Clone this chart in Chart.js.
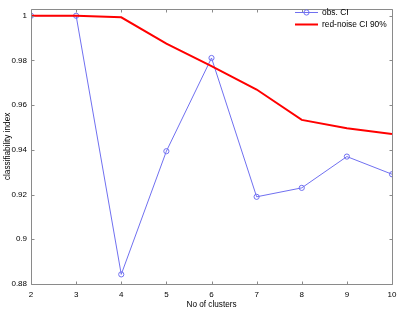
<!DOCTYPE html>
<html><head>
<meta charset="utf-8">
<script src="https://cdn.jsdelivr.net/npm/chart.js@4/dist/chart.umd.min.js"></script>
<style>html,body{margin:0;padding:0;background:#fff;overflow:hidden}</style>
</head><body>
<canvas id="c" width="397" height="309" style="width:397px;height:309px;display:block"></canvas>
<script>
const clusters = [2, 3, 4, 5, 6, 7, 8, 9, 10];
const obsCI = [1.0, 1.0, 0.8843, 0.9394, 0.9811, 0.9190, 0.9230, 0.9370, 0.9291];
const redNoiseCI90 = [1.0, 1.0, 0.9993, 0.9875, 0.9775, 0.9670, 0.9534, 0.9497, 0.9471];
const yTicks = [0.88, 0.9, 0.92, 0.94, 0.96, 0.98, 1];
const xTicks = [2, 3, 4, 5, 6, 7, 8, 9, 10];
const seriesNames = ['obs. CI', 'red-noise CI 90%'];
const xTitle = 'No of clusters';
const yTitle = 'classifiability index';

const FONT = '"Liberation Sans", Arial, Helvetica, sans-serif';
const BLUE = 'rgb(112,112,240)';
const RED = 'rgb(255,0,0)';
const AXIS = '#8a8a8a';

const boxPlugin = {
  id: 'boxTicks',
  afterDraw(chart) {
    const ctx = chart.ctx, a = chart.chartArea;
    const xs = chart.scales.x, ys = chart.scales.y;
    ctx.save();
    ctx.strokeStyle = AXIS; ctx.lineWidth = 1;
    const L = Math.round(a.left) + 0.5, R = Math.round(a.right) + 0.5;
    const T = Math.round(a.top) + 0.5, B = Math.round(a.bottom) + 0.5;
    ctx.beginPath();
    ctx.rect(L, T, R - L, B - T);
    const tl = 3;
    xTicks.forEach(v => {
      const p = Math.round(xs.getPixelForValue(v)) + 0.5;
      ctx.moveTo(p, B); ctx.lineTo(p, B - tl);
      ctx.moveTo(p, T); ctx.lineTo(p, T + tl);
    });
    yTicks.forEach(v => {
      const p = Math.round(ys.getPixelForValue(v)) + 0.5;
      ctx.moveTo(L, p); ctx.lineTo(L + tl, p);
      ctx.moveTo(R, p); ctx.lineTo(R - tl, p);
    });
    ctx.stroke();

    // legend
    const lx0 = 295, lx1 = 318, tx = 322;
    const rows = [12, 24];
    chart.data.datasets.forEach((ds, i) => {
      const y = rows[i] + 0.5;
      ctx.strokeStyle = ds.borderColor;
      ctx.lineWidth = ds.borderWidth;
      ctx.beginPath(); ctx.moveTo(lx0, y); ctx.lineTo(lx1, y); ctx.stroke();
      if (ds.pointRadius > 0) {
        ctx.lineWidth = 1;
        ctx.beginPath(); ctx.arc((lx0 + lx1) / 2, y, ds.pointRadius, 0, Math.PI * 2); ctx.stroke();
      }
      ctx.fillStyle = '#000';
      ctx.font = '8.4px ' + FONT;
      ctx.textBaseline = 'middle';
      ctx.textAlign = 'left';
      ctx.fillText(ds.label, tx, y);
    });
    ctx.restore();
  }
};

new Chart(document.getElementById('c'), {
  type: 'line',
  data: {
    datasets: [
      {
        label: seriesNames[0],
        data: clusters.map((x, i) => ({ x, y: obsCI[i] })),
        borderColor: BLUE, borderWidth: 1,
        pointRadius: 2.6, pointBorderColor: BLUE, pointBackgroundColor: 'rgba(0,0,0,0)',
        pointBorderWidth: 1, tension: 0, order: 2
      },
      {
        label: seriesNames[1],
        data: clusters.map((x, i) => ({ x, y: redNoiseCI90[i] })),
        borderColor: RED, borderWidth: 2,
        pointRadius: 0, tension: 0, order: 1
      }
    ]
  },
  options: {
    responsive: false, animation: false, devicePixelRatio: 1,
    layout: { padding: { top: 1, right: 5, left: 0, bottom: 0 } },
    plugins: { legend: { display: false }, tooltip: { enabled: false } },
    scales: {
      x: {
        type: 'linear', min: 2, max: 10,
        afterBuildTicks: s => { s.ticks = xTicks.map(v => ({ value: v })); },
        afterFit: s => { s.height = 25; s.paddingLeft = 0; s.paddingRight = 0; },
        grid: { display: false, drawTicks: false, tickLength: 0 }, border: { display: false },
        ticks: { color: '#000', font: { family: FONT, size: 8 }, padding: 6, maxRotation: 0, autoSkip: false },
        title: { display: true, text: xTitle, color: '#000', font: { family: FONT, size: 8.2 }, padding: { top: 0, bottom: -1 } }
      },
      y: {
        type: 'linear', min: 0.88, max: 1.0031,
        afterBuildTicks: s => { s.ticks = yTicks.map(v => ({ value: v })); },
        afterFit: s => { s.width = 31; },
        grid: { display: false, drawTicks: false, tickLength: 0 }, border: { display: false },
        ticks: { color: '#000', font: { family: FONT, size: 8 }, padding: 4, callback: v => String(+v.toFixed(2)) },
        title: { display: true, text: yTitle, color: '#000', font: { family: FONT, size: 8.2 }, padding: { top: 3, bottom: 0 } }
      }
    }
  },
  plugins: [boxPlugin]
});
</script>
</body></html>
